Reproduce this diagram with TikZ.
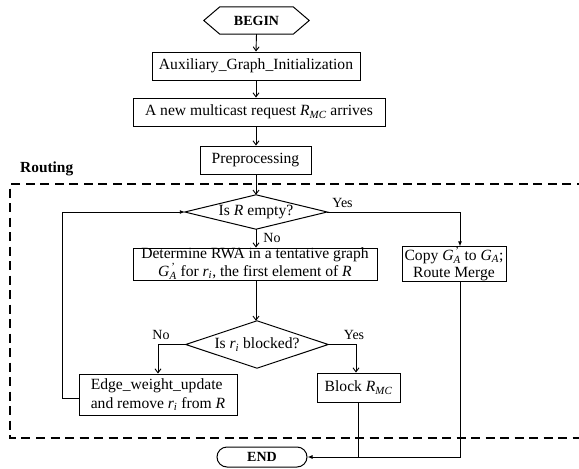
\documentclass[tikz,border=0pt]{standalone}
\usepackage{amsmath}
\usepackage{fontspec}
\setmainfont{Liberation Serif}
\usetikzlibrary{arrows.meta,shapes.misc}

\newcommand{\GAp}{\textit{G}_{\textit{A}}^{\hspace{0.12em}\textrm{'}}}

\tikzset{
  every node/.style={font=\fontsize{15.6}{16.5}\selectfont, inner sep=0pt},
  procbox/.style={draw, line width=1pt, align=center, minimum height=28},
  twoline/.style={font=\fontsize{15.6}{17.5}\selectfont},
  decision/.style={minimum width=142, minimum height=34, align=center},
  diamondline/.style={line width=1pt},
  flow/.style={line width=0.9pt, -{Straight Barb[length=4pt,width=6pt]}},
  flowfill/.style={line width=0.9pt, -{Latex[length=5pt,width=4pt]}},
  plainline/.style={line width=0.9pt},
  lbl/.style={font=\fontsize{14}{16}\selectfont},
  terminal/.style={font=\bfseries\fontsize{14}{16}\selectfont},
  region/.style={line width=2pt, dash pattern=on 9pt off 5.5pt},
}

\begin{document}
\begin{tikzpicture}[x=1pt,y=-1pt]
\useasboundingbox (0,0) rectangle (579,469);
\clip (0,0) rectangle (579,469);

% start terminal (hexagon)
\node[terminal, minimum width=73, minimum height=27] (begin) at (256.5,20.5) {BEGIN};
\draw[diamondline] (begin.north west) -- (begin.north east) -- ([xshift=16pt]begin.east)
  -- (begin.south east) -- (begin.south west) -- ([xshift=-16pt]begin.west) -- cycle;

% set-up steps
\node[procbox, minimum width=208] (aux) at (256,66) {Auxiliary\_Graph\_Initialization};
\node[procbox, minimum width=252] (req) at (259,112) {A new multicast request $\textit{R}_{\textit{MC}}$ arrives};
\node[procbox, minimum width=111] (pre) at (255.5,160) {Preprocessing};

% routing region
\node[font=\bfseries\fontsize{15.4}{17}\selectfont, anchor=base west] (routing) at (20,172) {Routing};
\draw[region] (600,184) -- (10,184) -- (10,438) -- (600,438);

% first decision
\node[decision] (empty) at (256,212) {Is \textit{R} empty?};
\draw[diamondline] (empty.west) -- (empty.north) -- (empty.east) -- (empty.south) -- cycle;

\node[procbox, twoline, minimum width=244, minimum height=32] (rwa) at (255,264)
  {Determine RWA in a tentative graph\\ $\GAp$ for $\textit{r}_{\textit{i}}$, the first element of \textit{R}};
\node[procbox, twoline, minimum width=104, minimum height=32] (copy) at (454,264)
  {Copy $\GAp$ to $\textit{G}_{\textit{A}}$;\\ Route Merge};

% second decision
\node[decision, minimum height=47] (blocked) at (257,344.5) {Is $\textit{r}_{\textit{i}}$ blocked?};
\draw[diamondline] (blocked.west) -- (blocked.north) -- (blocked.east) -- (blocked.south) -- cycle;

\node[procbox, minimum width=158, minimum height=41, align=left, font=\fontsize{15.6}{19}\selectfont] (upd) at (158,394.5)
  {Edge\_weight\_update\\ and remove $\textit{r}_{\textit{i}}$ from \textit{R}};
\node[procbox, minimum width=83, minimum height=29] (blk) at (358.5,387.5) {Block $\textit{R}_{\textit{MC}}$};

% end terminal
\node[terminal, rounded rectangle, draw, line width=1pt, minimum width=90, minimum height=20] (end) at (262,457) {END};

% branch labels
\node[lbl] (yes1) at (342.5,203) {Yes};
\node[lbl] (no1) at (272,238) {No};
\node[lbl] (no2) at (161,335) {No};
\node[lbl] (yes2) at (354,335) {Yes};

% connectors
\draw[flow] (begin.south) -- (aux.north);
\draw[flow] (aux.south) -- (aux.south |- req.north);
\draw[flow] (aux.south |- req.south) -- (aux.south |- pre.north);
\draw[flow] (aux.south |- pre.south) -- (aux.south |- empty.north);
\draw[flow] (empty.south) -- (empty.south |- rwa.north);
\draw[flowfill] (empty.east) -| ([xshift=6pt]copy.north);
\draw[flow] (empty.south |- rwa.south) -- (empty.south |- blocked.north);
\draw[flow] (blocked.west) -| (upd.north);
\draw[flow] (blocked.east) -| ([xshift=-2.5pt]blk.north);
\draw[flowfill] ([yshift=-3.5pt]upd.west) -- ++(-16,0) |- (empty.west);
\draw[plainline] (blk.south) -- (blk.south |- end.east);
\draw[flowfill] ([xshift=6pt]copy.south) |- (end.east);
\end{tikzpicture}
\end{document}
